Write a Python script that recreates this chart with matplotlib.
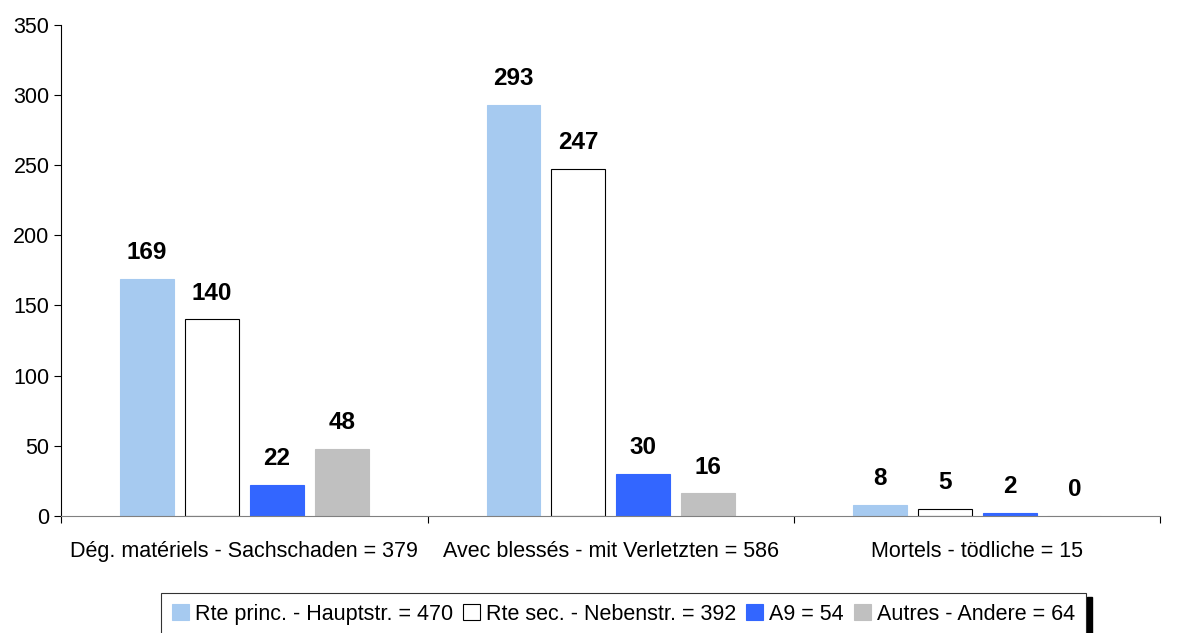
import numpy as np
import matplotlib
matplotlib.use('Agg')
import matplotlib.pyplot as plt

plt.rcParams['font.family'] = ['Liberation Sans', 'DejaVu Sans']

categories = ['Dég. matériels - Sachschaden = 379',
              'Avec blessés - mit Verletzten = 586',
              'Mortels - tödliche = 15']
series_names = ['Rte princ. - Hauptstr. = 470', 'Rte sec. - Nebenstr. = 392',
                'A9 = 54', 'Autres - Andere = 64']
hauptstr = [169, 293, 8]
nebenstr = [140, 247, 5]
a9 = [22, 30, 2]
andere = [48, 16, 0]

series = [hauptstr, nebenstr, a9, andere]
colors = ['#A6CAF0', '#FFFFFF', '#3366FF', '#C0C0C0']
edges = ['#A6CAF0', '#000000', '#3366FF', '#C0C0C0']

fig = plt.figure(figsize=(11.78, 6.33), dpi=100)
ax = fig.add_axes([0.052, 0.185, 0.933, 0.776])

x = np.arange(len(categories)) + 0.5
width = 0.147
step = 0.177
for i, (vals, c, ec) in enumerate(zip(series, colors, edges)):
    pos = x + (i - 1.5) * step
    ax.bar(pos, vals, width, color=c, edgecolor=ec, linewidth=0.8, label=series_names[i])
    for p, v in zip(pos, vals):
        ax.annotate(str(v), (p, v), xytext=(0, 19), textcoords='offset points',
                    ha='center', va='center', fontsize=17.5, fontweight='bold')

ax.set_xlim(0, 3)
ax.set_ylim(0, 350)
ax.set_yticks(range(0, 351, 50))
ax.set_xticks([0, 1, 2, 3])
ax.set_xticklabels([])
ax.set_xticks(x, minor=True)
ax.set_xticklabels(categories, minor=True)
ax.tick_params(axis='x', which='minor', length=0, pad=18, labelsize=15.5)
ax.tick_params(axis='x', which='major', length=5, direction='out')
ax.tick_params(axis='y', labelsize=15.5, length=5)
ax.spines['top'].set_visible(False)
ax.spines['right'].set_visible(False)
ax.spines['bottom'].set_color('#808080')

leg = fig.legend(loc='upper center', bbox_to_anchor=(0.5293, 1 - 593 / 633), ncol=4,
                 fontsize=15.5, borderaxespad=0,
                 handlelength=0.78, handleheight=0.78, handletextpad=0.3,
                 columnspacing=0.45, frameon=True, fancybox=False, borderpad=0.5,
                 edgecolor='black')
leg.get_frame().set_linewidth(0.8)

# thick shadow on the right edge of the legend box
fig.canvas.draw()
bb = leg.get_window_extent().transformed(fig.transFigure.inverted())
fig.add_artist(plt.Rectangle((bb.x1 + 0.001, 0), 0.0045, bb.y1 - 0.007,
                             transform=fig.transFigure, color='black'))

fig.savefig('out.png', dpi=100)
